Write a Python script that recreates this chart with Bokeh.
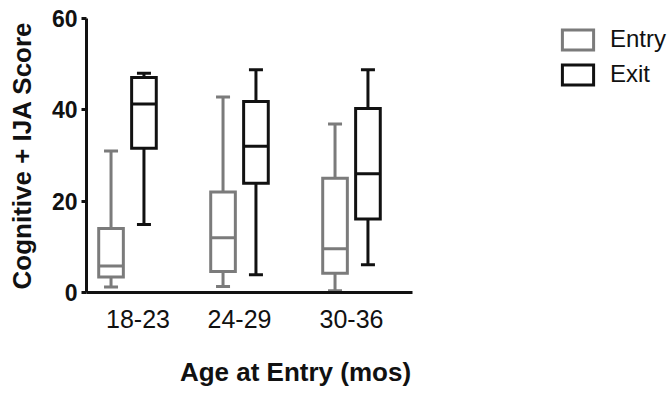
from bokeh.plotting import figure
from bokeh.models import (ColumnDataSource, Range1d, FixedTicker, Legend, LegendItem, LinearAxis)
from bokeh.embed import file_html
from bokeh.resources import INLINE

categories = ["18-23", "24-29", "30-36"]
series = ["Entry", "Exit"]

entry_min = [1.2, 1.3, 0.4]
entry_q1 = [3.4, 4.6, 4.2]
entry_med = [5.8, 12.0, 9.6]
entry_q3 = [14.0, 22.0, 25.0]
entry_max = [31.0, 42.8, 36.9]

exit_min = [14.9, 3.9, 6.1]
exit_q1 = [31.6, 23.9, 16.1]
exit_med = [41.3, 32.0, 26.0]
exit_q3 = [47.1, 41.8, 40.3]
exit_max = [48.0, 48.8, 48.8]

y_ticks = [0, 20, 40, 60]
x_title = "Age at Entry (mos)"
y_title = "Cognitive + IJA Score"

FONT = "Liberation Sans"
TXT = "#111111"
colors = {"Entry": "#7b7b7b", "Exit": "#111111"}
offsets = {"Entry": -0.147, "Exit": 0.147}
LABEL_SHIFT = [0.094, 0.0, 0.0]   # the first category label sits a little right in the reference
BOX_W = 0.22
CAP_W = 0.125
LW = 3
X0, X1 = 0.634, 3.549          # extent of the drawn x axis
PX_PER_UNIT = 112.0
FRAME_W = 671 - 86
X_TITLE_POS = 2.5              # horizontal centre of the x title, in axis units

p = figure(width=671, height=394, output_backend="svg", toolbar_location=None,
           x_range=Range1d(X0, X0 + FRAME_W / PX_PER_UNIT), y_range=Range1d(0, 60),
           min_border_left=86, min_border_right=0, min_border_top=18,
           min_border_bottom=102)
p.outline_line_color = None
p.grid.visible = False
p.background_fill_color = "white"
p.border_fill_color = "white"

stats = {
    "Entry": (entry_min, entry_q1, entry_med, entry_q3, entry_max),
    "Exit": (exit_min, exit_q1, exit_med, exit_q3, exit_max),
}

renderers = {}
for s in series:
    mn, q1, med, q3, mx = stats[s]
    xs = [i + 1 + offsets[s] for i in range(len(categories))]
    src = ColumnDataSource(dict(
        x=xs,
        left=[x - BOX_W / 2 for x in xs], right=[x + BOX_W / 2 for x in xs],
        cl=[x - CAP_W / 2 for x in xs], cr=[x + CAP_W / 2 for x in xs],
        mn=mn, q1=q1, med=med, q3=q3, mx=mx))
    c = colors[s]
    p.segment(x0="x", y0="q3", x1="x", y1="mx", source=src, line_color=c, line_width=LW)
    p.segment(x0="x", y0="mn", x1="x", y1="q1", source=src, line_color=c, line_width=LW)
    p.segment(x0="cl", y0="mx", x1="cr", y1="mx", source=src, line_color=c, line_width=LW)
    p.segment(x0="cl", y0="mn", x1="cr", y1="mn", source=src, line_color=c, line_width=LW)
    r = p.quad(left="left", right="right", bottom="q1", top="q3", source=src,
               fill_color="white", line_color=c, line_width=LW, line_join="miter")
    p.segment(x0="left", y0="med", x1="right", y1="med", source=src, line_color=c, line_width=LW)
    renderers[s] = r

# axes
tick_pos = [i + 1 + LABEL_SHIFT[i] for i in range(len(categories))]
xa = p.xaxis[0]
xa.bounds = (X0, X1)
xa.ticker = FixedTicker(ticks=tick_pos)
xa.major_label_overrides = {t: c for t, c in zip(tick_pos, categories)}
xa.major_tick_out = 0
xa.major_tick_in = 0
xa.minor_tick_out = 0
xa.minor_tick_in = 0
xa.axis_line_width = LW
xa.axis_line_color = TXT
xa.major_label_text_font = FONT
xa.major_label_text_font_size = "25px"
xa.major_label_text_color = TXT
xa.major_label_standoff = 17

# x-axis title, offset to the right as in the reference
xt = LinearAxis(ticker=FixedTicker(ticks=[X_TITLE_POS]),
                major_label_overrides={X_TITLE_POS: x_title},
                axis_line_color=None, major_tick_out=0, major_tick_in=0,
                minor_tick_out=0, minor_tick_in=0, major_label_standoff=26,
                major_label_text_font=FONT, major_label_text_font_size="26px",
                major_label_text_font_style="bold", major_label_text_color=TXT)
p.add_layout(xt, "below")

ya = p.yaxis[0]
ya.ticker = FixedTicker(ticks=y_ticks)
ya.major_tick_out = 5
ya.major_tick_in = 0
ya.minor_tick_out = 0
ya.minor_tick_in = 0
ya.major_tick_line_width = LW
ya.major_tick_line_color = TXT
ya.axis_line_width = LW
ya.axis_line_color = TXT
ya.major_label_text_font = FONT
ya.major_label_text_font_size = "23px"
ya.major_label_text_font_style = "bold"
ya.major_label_text_color = TXT
ya.major_label_standoff = 4
ya.axis_label = y_title
ya.axis_label_text_font = FONT
ya.axis_label_text_font_size = "26px"
ya.axis_label_text_font_style = "bold"
ya.axis_label_text_color = TXT
ya.axis_label_standoff = 12

legend = Legend(items=[LegendItem(label=s, renderers=[renderers[s]]) for s in series],
                location=(472, 204), margin=0, padding=0,
                border_line_color=None, background_fill_alpha=0,
                glyph_width=39, glyph_height=25, label_height=25,
                spacing=7, label_standoff=13,
                label_text_font=FONT, label_text_font_size="24px",
                label_text_color=TXT)
p.add_layout(legend)

open("out.html", "w").write(file_html(p, INLINE))
